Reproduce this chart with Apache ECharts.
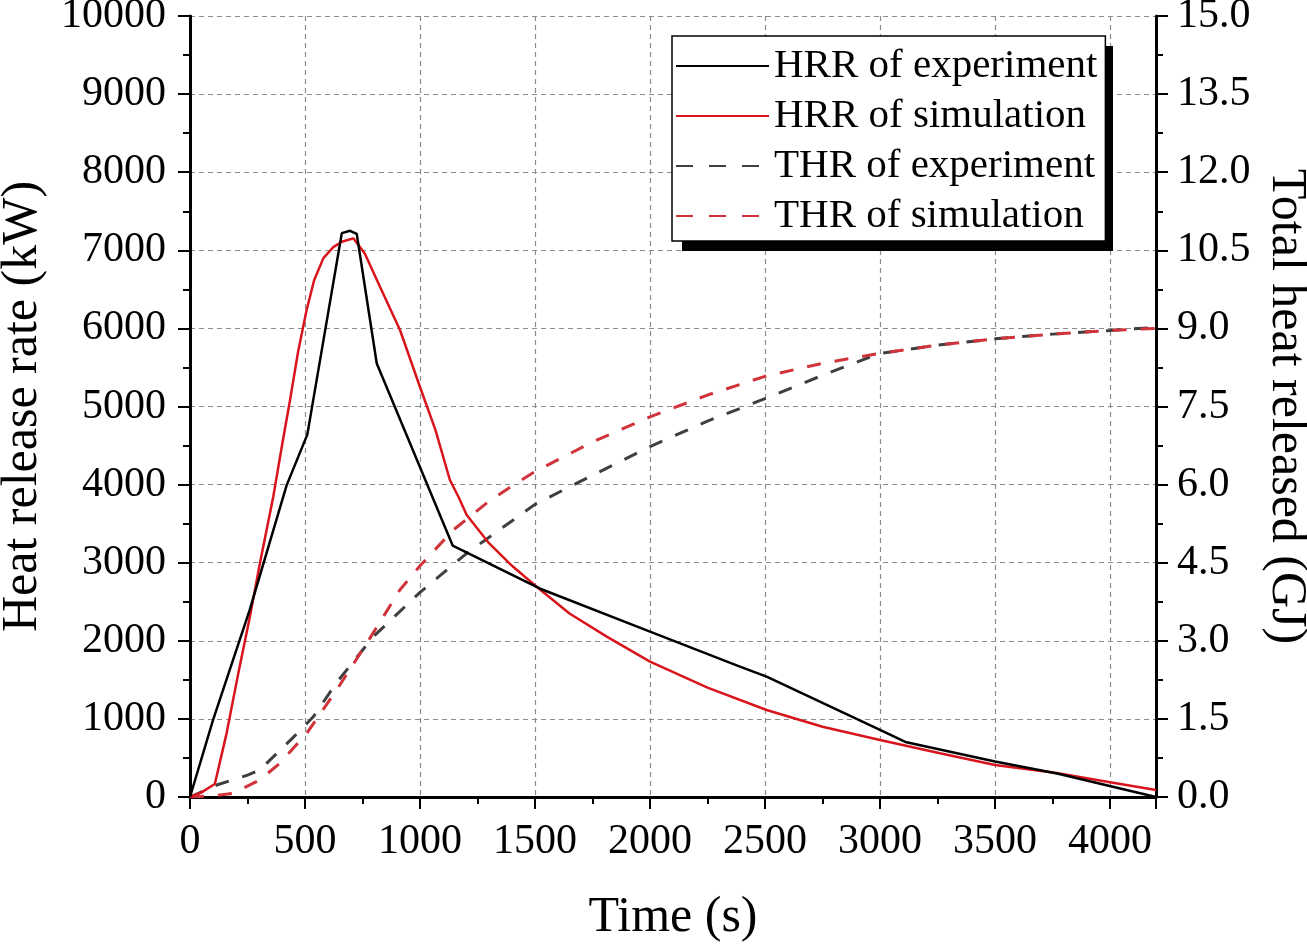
<!DOCTYPE html>
<html lang="en">
<head>
    <meta charset="UTF-8">
    <title>HRR and THR</title>
    <script src="https://cdn.jsdelivr.net/npm/echarts@6/dist/echarts.min.js"></script>
    <style>
        html, body { margin: 0; padding: 0; background: #fff; }
        #chart { width: 1307px; height: 948px; }
    </style>
</head>
<body>
    <div id="chart"></div>
    <script>
        // values
        var hrrExpT = [0, 100, 260, 420, 510, 660, 696, 725, 812, 1142, 1520, 2000, 2391, 2507, 3000, 3110, 3500, 3770, 4200];
        var hrrExpV = [0, 985, 2400, 3990, 4640, 7220, 7250, 7210, 5550, 3220, 2670, 2117, 1669, 1541, 858, 705, 455, 300, 0];

        var hrrSimT = [0, 50, 108, 159, 210, 260, 304, 362, 400, 435, 470, 507, 540, 580, 623, 660, 710, 760, 826, 913, 1000, 1067, 1130, 1167, 1203, 1300, 1400, 1507, 1650, 1812, 2000, 2250, 2507, 2750, 3000, 3261, 3500, 3768, 4000, 4200];
        var hrrSimV = [0, 60, 166, 815, 1583, 2300, 2992, 3845, 4500, 5083, 5700, 6235, 6620, 6900, 7040, 7110, 7153, 6960, 6534, 5980, 5250, 4700, 4059, 3845, 3611, 3250, 2960, 2693, 2350, 2053, 1733, 1400, 1114, 900, 730, 559, 410, 307, 190, 90];

        var thrExpT = [0, 116, 250, 304, 362, 450, 536, 638, 797, 1000, 1203, 1500, 1750, 2000, 2250, 2500, 2750, 3000, 3250, 3500, 3750, 4000, 4200];
        var thrExpV = [0, 0.23, 0.42, 0.52, 0.77, 1.15, 1.54, 2.2, 3.08, 3.93, 4.68, 5.62, 6.18, 6.73, 7.22, 7.65, 8.1, 8.52, 8.68, 8.8, 8.89, 8.96, 9.02];

        var thrSimT = [0, 100, 188, 304, 391, 507, 638, 768, 913, 1000, 1145, 1300, 1406, 1500, 1750, 2000, 2250, 2500, 2750, 3000, 3250, 3500, 3750, 4000, 4200];
        var thrSimV = [0, 0.02, 0.07, 0.33, 0.65, 1.22, 2.06, 2.95, 3.98, 4.44, 5.13, 5.68, 5.99, 6.25, 6.82, 7.3, 7.72, 8.08, 8.33, 8.52, 8.68, 8.8, 8.89, 8.96, 9.0];

        var seriesNames = ['HRR of experiment', 'HRR of simulation', 'THR of experiment', 'THR of simulation'];

        function pairs(t, v) {
            var out = [];
            for (var i = 0; i < t.length; i++) out.push([t[i], v[i]]);
            return out;
        }

        var font = '"Liberation Serif", "Times New Roman", serif';
        var chart = echarts.init(document.getElementById('chart'));

        var option = {
            animation: false,
            backgroundColor: '#fff',
            grid: { left: 190, right: 151, top: 16, bottom: 151, outerBoundsMode: 'none', containLabel: false },
            // black box behind the legend (its drop shadow)
            graphic: [{
                type: 'rect',
                z: 1,
                shape: { x: 682, y: 46, width: 431, height: 205 },
                style: { fill: '#000' }
            }],
            legend: {
                data: [
                    { name: seriesNames[0] },
                    { name: seriesNames[1] },
                    { name: seriesNames[2], lineStyle: { type: [17, 16] } },
                    { name: seriesNames[3], lineStyle: { type: [17, 16] } }
                ],
                orient: 'vertical',
                left: 672,
                top: 36,
                z: 10,
                padding: [5, 8, 0, 3],
                itemGap: 0,
                itemWidth: 93,
                itemHeight: 14,
                backgroundColor: '#fff',
                borderColor: '#000',
                borderWidth: 1.5,
                borderRadius: 0,
                itemStyle: { opacity: 0 },
                textStyle: { fontFamily: font, fontSize: 41, color: '#000', lineHeight: 50 }
            },
            xAxis: {
                type: 'value',
                min: 0,
                max: 4200,
                interval: 500,
                name: 'Time (s)',
                nameLocation: 'middle',
                nameGap: 96,
                nameTextStyle: { fontFamily: font, fontSize: 50, color: '#000' },
                axisLine: { lineStyle: { color: '#000', width: 3 } },
                axisTick: { inside: false, length: 12, lineStyle: { color: '#000', width: 2 } },
                minorTick: { show: true, splitNumber: 2, length: 7, lineStyle: { color: '#000', width: 2 } },
                axisLabel: {
                    fontFamily: font, fontSize: 42, color: '#000', margin: 24, showMaxLabel: false,
                    formatter: function (v) { return String(v); }
                },
                splitLine: { show: true, lineStyle: { color: '#8c8c8c', width: 1.2, type: [5, 4] } }
            },
            yAxis: [{
                type: 'value',
                min: 0,
                max: 10000,
                interval: 1000,
                name: 'Heat release rate (kW)',
                nameLocation: 'middle',
                nameRotate: 90,
                nameGap: 142,
                nameTextStyle: { fontFamily: font, fontSize: 50, color: '#000' },
                axisLine: { show: true, lineStyle: { color: '#000', width: 3 } },
                axisTick: { show: true, inside: false, length: 12, lineStyle: { color: '#000', width: 2 } },
                minorTick: { show: true, splitNumber: 2, length: 7, lineStyle: { color: '#000', width: 2 } },
                axisLabel: {
                    fontFamily: font, fontSize: 42, color: '#000', margin: 24,
                    formatter: function (v) { return String(v); }
                },
                splitLine: { show: true, lineStyle: { color: '#8c8c8c', width: 1.2, type: [5, 4] } }
            }, {
                type: 'value',
                position: 'right',
                min: 0,
                max: 15,
                interval: 1.5,
                name: 'Total heat released (GJ)',
                nameLocation: 'middle',
                nameRotate: -90,
                nameGap: 101,
                nameTextStyle: { fontFamily: font, fontSize: 50, color: '#000' },
                axisLine: { show: true, lineStyle: { color: '#000', width: 3 } },
                axisTick: { show: true, inside: false, length: 12, lineStyle: { color: '#000', width: 2 } },
                minorTick: { show: true, splitNumber: 2, length: 7, lineStyle: { color: '#000', width: 2 } },
                axisLabel: {
                    fontFamily: font, fontSize: 42, color: '#000', margin: 21,
                    formatter: function (v) { return v.toFixed(1); }
                },
                splitLine: { show: false }
            }],
            series: [{
                name: 'THR of experiment',
                type: 'line',
                yAxisIndex: 1,
                symbol: 'none',
                data: pairs(thrExpT, thrExpV),
                lineStyle: { color: '#3f3f3f', width: 3, type: [14, 14] },
                itemStyle: { color: '#3f3f3f' }
            }, {
                name: 'THR of simulation',
                type: 'line',
                yAxisIndex: 1,
                symbol: 'none',
                data: pairs(thrSimT, thrSimV),
                lineStyle: { color: '#d0333a', width: 3, type: [14, 14] },
                itemStyle: { color: '#d0333a' }
            }, {
                name: 'HRR of simulation',
                type: 'line',
                symbol: 'none',
                data: pairs(hrrSimT, hrrSimV),
                lineStyle: { color: '#d8141c', width: 2.5 },
                itemStyle: { color: '#d8141c' }
            }, {
                name: 'HRR of experiment',
                type: 'line',
                symbol: 'none',
                data: pairs(hrrExpT, hrrExpV),
                lineStyle: { color: '#000', width: 2.5 },
                itemStyle: { color: '#000' }
            }]
        };

        chart.setOption(option);
    </script>
</body>
</html>
